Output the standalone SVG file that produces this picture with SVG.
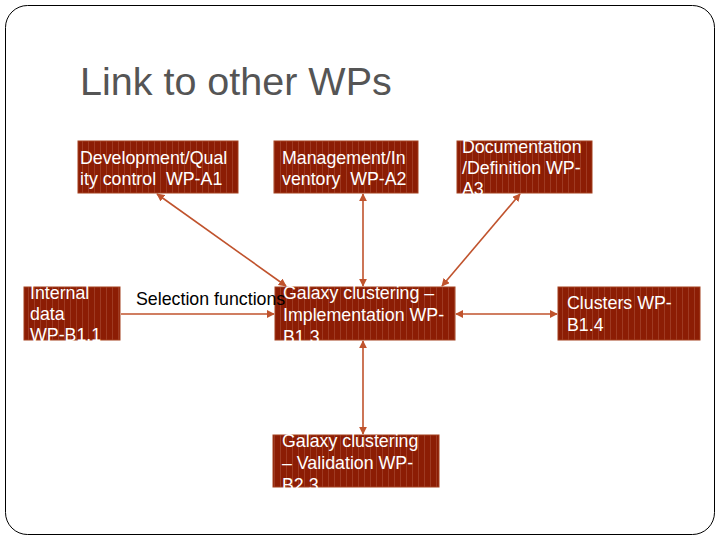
<svg xmlns="http://www.w3.org/2000/svg" width="720" height="540" viewBox="0 0 720 540">
<defs>
<pattern id="stripes" width="6" height="10" patternUnits="userSpaceOnUse">
<rect width="6" height="10" fill="#8c1d04"/>
<rect x="4" width="1" height="10" fill="#9e3a22"/>
</pattern>
<marker id="ah" viewBox="0 0 10 10" refX="9" refY="5" markerWidth="5" markerHeight="5" orient="auto-start-reverse">
<path d="M0,0 L10,5 L0,10 z" fill="#c0532d"/>
</marker>
</defs>
<style>
.box{fill:url(#stripes);stroke:#a3401f;stroke-width:1}
.t{font-family:"Liberation Sans",Arial,sans-serif;font-size:17.8px;fill:#ffffff;white-space:pre}
.c{stroke:#c0532d;stroke-width:1.6;fill:none}
</style>
<rect x="5.5" y="5.5" width="709" height="529" rx="22" fill="#ffffff" stroke="#000" stroke-width="1"/>
<text x="80" y="95" font-family="'Liberation Sans',Arial,sans-serif" font-size="39.5" fill="#555555">Link to other WPs</text>
<g id="connectors">
<line class="c" x1="157" y1="194" x2="286" y2="286" marker-start="url(#ah)" marker-end="url(#ah)"/>
<line class="c" x1="363" y1="194" x2="363" y2="286" marker-start="url(#ah)" marker-end="url(#ah)"/>
<line class="c" x1="520" y1="194" x2="442" y2="286" marker-start="url(#ah)" marker-end="url(#ah)"/>
<line class="c" x1="121" y1="314" x2="274" y2="314" marker-end="url(#ah)"/>
<line class="c" x1="557" y1="314" x2="456" y2="314" marker-start="url(#ah)" marker-end="url(#ah)"/>
<line class="c" x1="363" y1="341" x2="363" y2="434" marker-start="url(#ah)" marker-end="url(#ah)"/>
</g>
<g id="A1">
<rect class="box" x="78" y="141" width="160" height="52"/>
<text class="t" x="80" y="164">Development/Qual</text>
<text class="t" x="80" y="185" xml:space="preserve">ity control  WP-A1</text>
</g>
<g id="A2">
<rect class="box" x="274" y="141" width="144" height="52"/>
<text class="t" x="282" y="164">Management/In</text>
<text class="t" x="282" y="185" xml:space="preserve">ventory  WP-A2</text>
</g>
<g id="A3">
<rect class="box" x="457" y="141" width="135" height="52"/>
<text class="t" x="462" y="153">Documentation</text>
<text class="t" x="462" y="174">/Definition WP-</text>
<text class="t" x="462" y="195">A3</text>
</g>
<g id="B11">
<rect class="box" x="24" y="287" width="96" height="53"/>
<text class="t" x="30" y="299">Internal</text>
<text class="t" x="30" y="320">data</text>
<text class="t" x="30" y="341">WP-B1.1</text>
</g>
<g id="B13">
<rect class="box" x="275" y="287" width="180" height="53"/>
<text class="t" x="283" y="299">Galaxy clustering –</text>
<text class="t" x="283" y="321">Implementation WP-</text>
<text class="t" x="283" y="343">B1.3</text>
</g>
<g id="B14">
<rect class="box" x="558" y="287" width="142" height="53"/>
<text class="t" x="567" y="309">Clusters WP-</text>
<text class="t" x="567" y="331">B1.4</text>
</g>
<g id="B23">
<rect class="box" x="273" y="435" width="166" height="52"/>
<text class="t" x="282" y="447">Galaxy clustering</text>
<text class="t" x="282" y="469">– Validation WP-</text>
<text class="t" x="282" y="491">B2.3</text>
</g>
<text x="136" y="305" font-family="'Liberation Sans',Arial,sans-serif" font-size="17.8" fill="#000">Selection functions</text>
</svg>
